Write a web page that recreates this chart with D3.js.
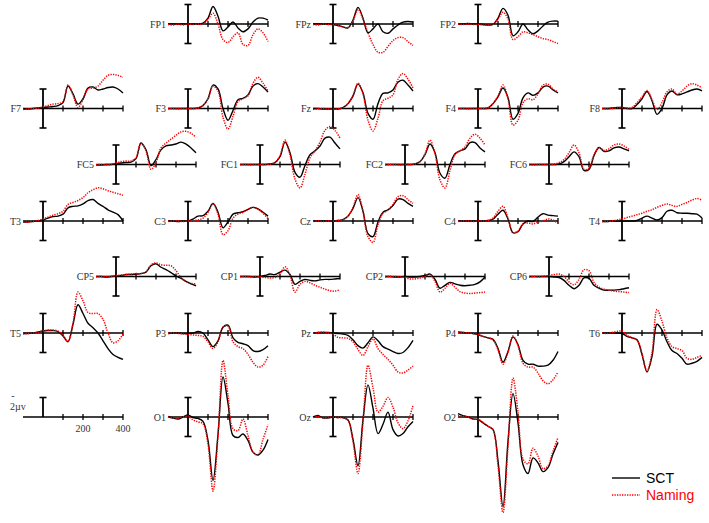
<!DOCTYPE html>
<html>
<head>
<meta charset="utf-8">
<script src="https://cdn.jsdelivr.net/npm/d3@7"></script>
<style>
  body { margin: 0; background: #fff; }
</style>
</head>
<body>
<div id="chart"></div>
<script>
"use strict";

// Sample times (ms), one value per time in every series below
const times = [-100, -75, -50, -25, 0, 25, 50, 75, 100, 125, 150, 175, 200, 225, 250, 275, 300, 325, 350, 375, 400];
const tickTimes = [100, 200, 300, 400];
const tickLabels = ["200", "400"];
const seriesNames = ["SCT", "Naming"];

// Grand averages in µV (negative plotted up)
const FP1_sct = [0,0,0,0,0,0,0,-0.1,-0.6,-1.8,-0.8,0.7,0.3,-0.2,0.4,0.8,0.5,-0.2,-0.6,-0.6,-0.4];
const FP1_nam = [0.05,0.1,0,0.1,0,0.05,0,0,-0.5,-1.1,0,1.6,1.9,1.3,0.9,2.1,2.2,1.1,0.5,0.9,1.8];
const FPz_sct = [0,0,0,0,0.05,0.15,0.3,0.4,-0.4,-1.7,-0.6,0.9,0.5,0,0.8,0.95,0.5,0.1,-0.2,-0.25,-0.2];
const FPz_nam = [0.05,0.1,0,0.05,0.05,0.15,0.3,0.35,-0.3,-1.5,-0.5,0.9,2.1,2.9,2.9,2.3,1.7,1.4,1.4,1.8,2.2];
const FP2_sct = [0,0,-0.05,0,0,0.05,0.1,0.05,-0.6,-1.6,-0.9,1.2,0.8,0,0.6,1.0,0.7,0.2,-0.2,-0.3,-0.3];
const FP2_nam = [0,0.05,0,0.05,0.05,0.1,0.1,0.05,-0.5,-1.2,-0.5,1.6,1.3,0.8,0.9,1.1,1.3,1.5,1.6,1.8,2.0];

const F7_sct = [0.05,0.05,0,-0.05,-0.1,-0.15,-0.2,-0.3,-0.6,-2.3,-1.5,-0.45,-1.0,-2.1,-2.2,-1.9,-2.0,-2.15,-2.2,-2.0,-1.6];
const F7_nam = [0.1,0.05,0,-0.05,-0.15,-0.3,-0.45,-0.5,-0.7,-2.4,-1.4,-0.1,-0.9,-2.0,-2.1,-2.3,-2.9,-3.4,-3.5,-3.4,-3.2];
const F3_sct = [0,0,0,0,0,0,-0.05,-0.3,-1.0,-2.4,-2.0,0,1.2,0.2,-0.9,-1.05,-1.4,-2.3,-2.55,-2.2,-1.7];
const F3_nam = [0.05,0,0.05,0,0,0,-0.05,-0.3,-1.0,-2.3,-1.8,0.9,2.1,0.8,-0.7,-1.0,-1.3,-2.6,-3.2,-2.6,-1.8];
const Fz_sct = [0,0,0.05,0.05,0.05,0.05,-0.1,-0.5,-1.3,-2.5,-1.6,0.5,1.1,-0.5,-1.55,-1.6,-1.9,-2.7,-2.9,-2.4,-1.8];
const Fz_nam = [0.1,0.05,0,0.05,0.05,0.05,-0.1,-0.5,-1.3,-2.6,-1.5,1.2,2.3,1.0,-0.8,-1.05,-1.4,-3.0,-3.6,-3.0,-2.1];
const F4_sct = [0,0,0,0,0,0,-0.05,-0.5,-1.2,-2.1,-1.1,1.1,0.5,-1.1,-1.6,-1.35,-1.6,-2.2,-2.3,-1.9,-1.6];
const F4_nam = [0.05,0,0.05,0,0,0,-0.05,-0.5,-1.3,-2.4,-1.0,1.7,1.2,-0.6,-1.0,-0.9,-1.5,-2.4,-2.5,-2.0,-1.7];
const F8_sct = [0,0,-0.05,-0.1,-0.1,0,0,-0.4,-1.0,-1.75,-0.8,0.6,0,-1.4,-1.8,-1.4,-1.5,-1.7,-1.9,-2.0,-1.8];
const F8_nam = [0,0.05,0,-0.05,-0.1,-0.05,-0.1,-0.6,-1.2,-1.85,-0.9,0.1,-0.6,-1.7,-2.0,-1.5,-1.8,-2.3,-2.55,-2.4,-2.1];

const FC5_sct = [0.05,0.05,0,0,-0.1,-0.15,-0.2,-0.25,-0.6,-2.2,-1.5,0.1,-0.5,-1.5,-1.9,-2.0,-2.1,-2.3,-2.1,-1.7,-1.2];
const FC5_nam = [0.05,0,0.05,0,-0.15,-0.3,-0.35,-0.35,-0.7,-2.2,-1.4,0.5,-0.2,-1.7,-2.2,-2.6,-3.0,-3.35,-3.4,-3.2,-2.8];
const FC1_sct = [0,0,0,0,0,0,-0.05,-0.2,-0.8,-2.3,-1.2,0.8,1.3,0.1,-1.0,-1.4,-1.9,-2.7,-2.8,-2.2,-1.6];
const FC1_nam = [0.05,0,0.05,0,0,0,-0.05,-0.2,-0.9,-2.5,-1.0,1.5,2.4,1.0,-0.7,-1.4,-2.3,-3.5,-3.9,-3.5,-2.7];
const FC2_sct = [0,0,0,0,0,0,-0.05,-0.3,-1.0,-2.1,-1.2,0.9,1.4,0,-1.1,-1.4,-1.6,-2.25,-2.25,-1.7,-1.3];
const FC2_nam = [0.05,0,0,0.05,0,0,-0.05,-0.3,-1.1,-2.5,-1.1,1.6,2.4,0.6,-1.0,-1.4,-1.8,-2.7,-3.1,-2.7,-2.0];
const FC6_sct = [0,0,0,0,0,0,-0.05,-0.3,-0.8,-1.3,-0.8,0.6,0.5,-0.9,-1.75,-1.35,-1.4,-1.7,-1.8,-1.6,-1.4];
const FC6_nam = [0,0.05,0,0,0,-0.05,-0.2,-0.5,-1.2,-2.0,-1.2,0.5,0.4,-1.0,-1.75,-1.45,-1.6,-2.0,-2.1,-1.9,-1.55];

const T3_sct = [0.1,0.1,0.05,0,-0.1,-0.3,-0.45,-0.5,-0.7,-1.35,-1.5,-1.55,-1.75,-2.1,-2.2,-1.8,-1.5,-1.15,-0.9,-0.65,0];
const T3_nam = [0.1,0.1,0.05,-0.05,-0.2,-0.4,-0.6,-0.75,-1.0,-1.7,-1.9,-2.1,-2.4,-2.9,-3.2,-3.4,-3.3,-3.1,-2.95,-2.8,-2.65];
const C3_sct = [0,0,0.05,0,0,-0.2,-0.5,-0.55,-1.0,-1.8,-0.9,0.7,0.1,-0.7,-0.85,-0.95,-1.2,-1.4,-1.25,-0.9,-0.5];
const C3_nam = [0.05,0,0,0.05,0,-0.05,-0.1,-0.3,-0.9,-1.8,-0.7,1.4,1.0,-0.3,-0.7,-0.9,-1.2,-1.4,-1.2,-0.8,-0.25];
const Cz_sct = [0,0,0,0,0,-0.05,-0.15,-0.5,-1.3,-2.4,-1.0,1.3,1.6,0.1,-0.9,-1.15,-1.6,-2.25,-2.2,-1.8,-1.5];
const Cz_nam = [0.05,0,0.05,0,0,-0.05,-0.15,-0.5,-1.4,-2.7,-1.0,1.6,2.2,0.4,-0.8,-1.1,-1.7,-2.5,-2.6,-2.2,-1.8];
const C4_sct = [0,0,0,0,0,0,-0.05,-0.2,-0.7,-1.1,-0.2,1.2,1.1,0.3,0,0.05,-0.4,-0.75,-0.6,-0.55,-0.5];
const C4_nam = [0.05,0,0,0.05,0,0,-0.05,-0.3,-1.0,-1.5,-0.3,1.2,1.0,0.3,0.2,0.3,0.1,0,-0.2,-0.1,0.25];
const T4_sct = [0.05,0.05,0,0,0,0,0,-0.05,-0.3,-0.5,-0.3,-0.1,-0.35,-1.0,-1.1,-0.85,-0.8,-0.8,-0.75,-0.7,-0.3];
const T4_nam = [0.05,0.05,0,-0.1,-0.2,-0.35,-0.5,-0.65,-0.8,-1.0,-1.15,-1.4,-1.6,-1.75,-1.6,-1.5,-1.7,-1.9,-2.15,-2.3,-2.15];

const CP5_sct = [0,0,0.05,0,-0.05,-0.1,-0.2,-0.2,-0.25,-0.3,-0.45,-1.1,-1.3,-0.95,-0.7,-0.4,-0.05,0.2,0.5,0.75,0.95];
const CP5_nam = [0.05,0,0,0,-0.1,-0.15,-0.2,-0.25,-0.3,-0.3,-0.5,-1.2,-1.4,-1.2,-1.15,-1.1,-0.6,0.1,0.5,0.7,0.75];
const CP1_sct = [0,0,0,0.05,0,-0.1,-0.25,-0.2,-0.45,-0.65,-0.2,0.8,0.5,0.3,0.4,0.45,0.35,0.3,0.3,0.25,0.2];
const CP1_nam = [0.05,0,0.05,0,0.05,0.1,0.15,0.1,-0.3,-1.0,-0.1,1.6,0.8,0.5,0.65,0.9,1.1,1.3,1.45,1.5,1.35];
const CP2_sct = [0,0,0.05,0.05,0,0.05,0.05,0,-0.1,-0.25,0.3,1.2,0.9,0.6,0.75,0.9,0.95,0.9,0.8,0.55,0.05];
const CP2_nam = [0.05,0,0,0.05,0.1,0.25,0.25,0.15,0,-0.2,0.5,1.6,1.2,0.7,1.1,1.55,1.7,1.75,1.7,1.65,1.6];
const CP6_sct = [0,0,0,0,0,0.05,0.1,0.4,0.9,1.25,0.9,0.15,0.2,0.9,1.2,1.4,1.4,1.4,1.35,1.25,1.15];
const CP6_nam = [0.05,0,0.05,-0.05,-0.1,-0.2,-0.25,0,0.55,0.85,0.3,-0.7,-0.6,0.6,1.1,1.3,1.4,1.5,1.55,1.6,1.65];

const T5_sct = [0.05,0.05,0,-0.1,-0.2,-0.25,-0.25,-0.15,0.3,0.9,-0.9,-2.9,-2.0,-1.0,-0.55,0,0.8,1.6,2.2,2.5,2.7];
const T5_nam = [0.1,0.05,0,-0.1,-0.2,-0.3,-0.3,-0.2,0.25,0.85,-1.0,-4.2,-3.3,-2.1,-2.0,-2.0,-1.4,0,1.0,0.8,0.1];
const P3_sct = [0.05,0,0,0.05,0.05,0,-0.15,0,0.7,1.4,0.8,-0.6,-0.8,0.5,0.95,1.1,1.3,1.8,1.9,1.7,1.3];
const P3_nam = [0.05,0,0.05,0.1,0.15,0.2,0.25,0.35,0.9,1.6,0.9,-0.6,-0.7,0.9,1.4,1.6,2.2,3.0,3.5,3.3,2.4];
const Pz_sct = [0,-0.05,-0.05,-0.05,0,0.05,0.1,0.25,0.7,1.3,1.55,1.0,0.4,0.8,1.4,1.65,1.9,2.1,2.0,1.5,0.75];
const Pz_nam = [0,-0.05,-0.1,0,0.1,0.45,0.5,0.55,0.9,1.7,2.3,1.4,0.6,1.6,2.2,2.7,3.3,4.0,4.1,3.8,3.4];
const P4_sct = [-0.1,-0.05,0,0.05,0.15,0.35,0.5,0.65,1.6,3.0,1.9,0.4,1.2,2.8,3.2,3.2,3.4,3.4,3.3,2.8,1.9];
const P4_nam = [0,-0.05,0,0.05,0.15,0.35,0.5,0.7,1.7,3.2,2.0,0.3,1.3,3.1,3.5,3.5,4.1,4.9,5.2,4.8,4.0];
const T6_sct = [0,0,0,0,0.05,0.35,0.5,0.7,2.2,4.0,2.4,-0.9,-0.3,0.9,1.8,2.1,2.6,3.2,3.1,2.9,2.5];
const T6_nam = [0,0.05,-0.05,-0.15,-0.2,0.25,0.5,0.7,2.1,3.9,2.0,-2.4,-1.2,0.5,1.4,1.6,1.8,2.6,2.7,2.5,2.3];

const O1_sct = [-0.05,0.1,0.2,0,-0.2,0.05,0.15,0.45,2.4,6.5,1.8,-4.1,-1.4,1.9,2.1,1.75,2.4,3.6,3.9,3.4,2.3];
const O1_nam = [0,0.1,0.1,0,-0.1,0.3,0.5,0.7,2.8,7.6,2.0,-5.8,-2.2,1.2,1.4,0.2,1.9,3.6,3.9,2.3,0.8];
const Oz_sct = [0,-0.15,0.1,0.1,0,0.05,0.05,0.3,2.3,5.0,0.3,-3.3,-0.9,1.7,0.75,-0.5,1.3,1.95,1.7,1.0,0.45];
const Oz_nam = [0.05,-0.05,0.1,0.05,0,0.05,0.1,0.35,2.5,5.8,0.5,-5.3,-3.0,-0.5,-1.1,-2.0,-1.0,0.6,1.2,0.4,-1.2];
const O2_sct = [-0.35,-0.15,0,0.2,0.25,0.6,0.95,1.3,4.5,9.2,2.5,-2.4,0.6,4.9,5.8,4.2,4.7,5.6,5.2,3.8,2.6];
const O2_nam = [-0.15,-0.1,0,0.2,0.25,0.55,0.95,1.3,5.0,9.8,3.0,-4.0,-0.5,4.3,4.8,3.2,4.0,5.3,5.0,3.5,2.1];

// Lookup table built from the arrays above
const waves = {
  FP1: [FP1_sct, FP1_nam], FPz: [FPz_sct, FPz_nam], FP2: [FP2_sct, FP2_nam],
  F7: [F7_sct, F7_nam], F3: [F3_sct, F3_nam], Fz: [Fz_sct, Fz_nam], F4: [F4_sct, F4_nam], F8: [F8_sct, F8_nam],
  FC5: [FC5_sct, FC5_nam], FC1: [FC1_sct, FC1_nam], FC2: [FC2_sct, FC2_nam], FC6: [FC6_sct, FC6_nam],
  T3: [T3_sct, T3_nam], C3: [C3_sct, C3_nam], Cz: [Cz_sct, Cz_nam], C4: [C4_sct, C4_nam], T4: [T4_sct, T4_nam],
  CP5: [CP5_sct, CP5_nam], CP1: [CP1_sct, CP1_nam], CP2: [CP2_sct, CP2_nam], CP6: [CP6_sct, CP6_nam],
  T5: [T5_sct, T5_nam], P3: [P3_sct, P3_nam], Pz: [Pz_sct, Pz_nam], P4: [P4_sct, P4_nam], T6: [T6_sct, T6_nam],
  O1: [O1_sct, O1_nam], Oz: [Oz_sct, Oz_nam], O2: [O2_sct, O2_nam]
};

// Montage layout
let width = 709;
let height = 523;
let rowBase = [24, 108.5, 164.5, 221, 276.5, 333, 417];
let colFive = [43, 188, 333, 478, 622];
let colFour = [116, 260, 405, 549];
let rows = [
  {names: [null, "FP1", "FPz", "FP2", null], cols: colFive},
  {names: ["F7", "F3", "Fz", "F4", "F8"], cols: colFive},
  {names: ["FC5", "FC1", "FC2", "FC6"], cols: colFour},
  {names: ["T3", "C3", "Cz", "C4", "T4"], cols: colFive},
  {names: ["CP5", "CP1", "CP2", "CP6"], cols: colFour},
  {names: ["T5", "P3", "Pz", "P4", "T6"], cols: colFive},
  {names: ["scale", "O1", "Oz", "O2", null], cols: colFive}
];

let pxPerUv = 9.75;
let colors = ["#000000", "#ff0000"];

let svg = d3.select("#chart")
  .append("svg")
  .attr("width", width)
  .attr("height", height)
  .style("display", "block");

svg.append("rect")
  .attr("width", width)
  .attr("height", height)
  .attr("fill", "#fff");

function drawFrame(g, x, y, base, fullBar) {
  g.append("line")
    .attr("x1", x(-100)).attr("x2", x(400))
    .attr("y1", base).attr("y2", base)
    .attr("stroke", "#000").attr("stroke-width", 1.3);

  g.selectAll("line.tick")
    .data(tickTimes)
    .join("line")
    .attr("class", "tick")
    .attr("x1", d => x(d)).attr("x2", d => x(d))
    .attr("y1", base - 3).attr("y2", base + 3)
    .attr("stroke", "#000").attr("stroke-width", 1.3);

  let top = y(-2);
  let bottom = fullBar ? y(2) : base;
  g.append("line")
    .attr("x1", x(0)).attr("x2", x(0))
    .attr("y1", top).attr("y2", bottom)
    .attr("stroke", "#000").attr("stroke-width", 1.8);

  let caps = fullBar ? [top, bottom] : [top];
  caps.forEach(cy => {
    g.append("line")
      .attr("x1", x(0) - 3.5).attr("x2", x(0) + 3.5)
      .attr("y1", cy).attr("y2", cy)
      .attr("stroke", "#000").attr("stroke-width", 1.6);
  });
}

rows.forEach((row, r) => {
  let base = rowBase[r];
  row.names.forEach((name, c) => {
    if (!name) return;
    let x0 = row.cols[c];
    let x = d3.scaleLinear().domain([-100, 400]).range([x0 - 20, x0 + 80]);
    let y = d3.scaleLinear().domain([-2, 2]).range([base - 2 * pxPerUv, base + 2 * pxPerUv]);
    let g = svg.append("g");

    if (name === "scale") {
      drawFrame(g, x, y, base, false);
      g.append("text")
        .attr("x", 13).attr("y", 399)
        .attr("text-anchor", "middle")
        .style("font-family", "'Liberation Serif', serif")
        .style("font-size", "10px")
        .attr("fill", "#333")
        .text("-");
      g.append("text")
        .attr("x", 10).attr("y", 410)
        .style("font-family", "'Liberation Serif', serif")
        .style("font-size", "10px")
        .attr("fill", "#333")
        .text("2µv");
      g.selectAll("text.tl")
        .data(tickLabels)
        .join("text")
        .attr("class", "tl")
        .attr("x", d => x(+d))
        .attr("y", base + 15)
        .attr("text-anchor", "middle")
        .style("font-family", "'Liberation Serif', serif")
        .style("font-size", "10px")
        .attr("fill", "#333")
        .text(d => d);
      return;
    }

    drawFrame(g, x, y, base, true);

    g.append("text")
      .attr("x", x(-100) - 2)
      .attr("y", base + 3.5)
      .attr("text-anchor", "end")
      .style("font-family", "'Liberation Serif', serif")
      .style("font-size", "10px")
      .attr("fill", "#333")
      .text(name);

    let line = d3.line()
      .x((d, i) => x(times[i]))
      .y(d => y(d))
      .curve(d3.curveCatmullRom.alpha(0.5));

    waves[name].forEach((vals, k) => {
      g.append("path")
        .attr("d", line(vals))
        .attr("fill", "none")
        .attr("stroke", colors[k])
        .attr("stroke-width", k === 0 ? 1.4 : 1.5)
        .attr("stroke-dasharray", k === 0 ? null : "1.3,1.2");
    });
  });
});

// Legend
let legend = svg.append("g");
seriesNames.forEach((s, i) => {
  let ly = 478 + i * 17;
  legend.append("line")
    .attr("x1", 612).attr("x2", 640)
    .attr("y1", ly).attr("y2", ly)
    .attr("stroke", colors[i])
    .attr("stroke-width", 1.4)
    .attr("stroke-dasharray", i === 0 ? null : "1.3,1.2");
  legend.append("text")
    .attr("x", 646)
    .attr("y", ly + 5)
    .style("font-family", "'Liberation Sans', Arial, sans-serif")
    .style("font-size", "14px")
    .attr("fill", colors[i])
    .text(s);
});
</script>
</body>
</html>
